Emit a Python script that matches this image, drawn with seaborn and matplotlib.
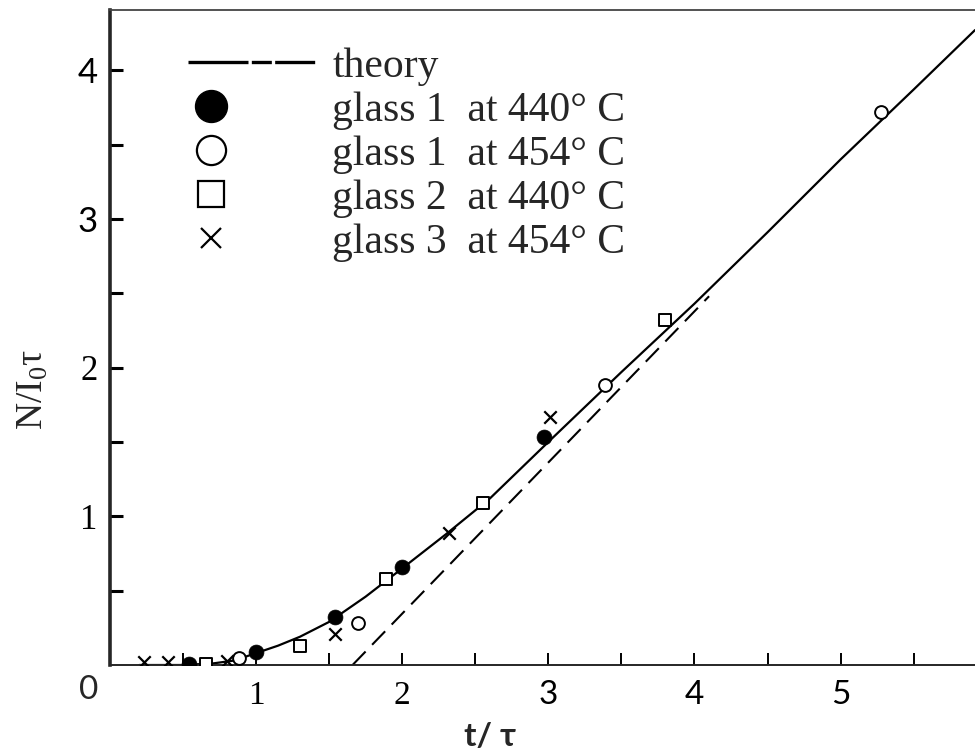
import numpy as np
import pandas as pd
import matplotlib
matplotlib.use("Agg")
import matplotlib.pyplot as plt
import seaborn as sns
from matplotlib.lines import Line2D
from matplotlib.legend_handler import HandlerLine2D
from matplotlib.ticker import FixedLocator

# ---------------- data ----------------
theory_x = [0.20, 0.50, 0.70, 0.85, 1.00, 1.15, 1.30, 1.50, 1.75, 2.00, 2.30,
            2.60, 3.00, 3.50, 4.00, 4.50, 5.00, 5.50, 5.92]
theory_y = [0.00, 0.00, 0.01, 0.03, 0.08, 0.13, 0.19, 0.29, 0.46, 0.65, 0.88,
            1.12, 1.50, 1.97, 2.43, 2.91, 3.40, 3.87, 4.27]
asym_x = [1.66, 4.10]
asym_y = [0.00, 2.48]

g1_440_x = [0.54, 1.00, 1.54, 2.00, 2.97]
g1_440_y = [0.01, 0.09, 0.32, 0.66, 1.53]
g1_454_x = [0.88, 1.70, 3.39, 5.28]
g1_454_y = [0.05, 0.28, 1.88, 3.72]
g2_440_x = [0.66, 1.30, 1.89, 2.55, 3.80]
g2_440_y = [0.01, 0.13, 0.58, 1.09, 2.32]
g3_454_x = [0.23, 0.40, 0.80, 1.54, 2.32, 3.01]
g3_454_y = [0.02, 0.02, 0.03, 0.21, 0.89, 1.67]

legend_labels = ["theory", "glass 1  at 440° C", "glass 1  at 454° C",
                 "glass 2  at 440° C", "glass 3  at 454° C"]
x_tick_vals = [1, 2, 3, 4, 5]
x_minor_vals = [0.5, 1.5, 2.5, 3.5, 4.5, 5.5]
y_tick_vals = [1, 2, 3, 4]
y_minor_vals = [0.5, 1.5, 2.5, 3.5]
x_label = "t/ τ"
y_label = r"N/I$_{\mathrm{0}}$τ"

# ---------------- style ----------------
sns.set_style("ticks")
plt.rcParams["font.family"] = ["Liberation Serif", "DejaVu Serif"]
plt.rcParams["mathtext.fontset"] = "custom"
plt.rcParams["mathtext.rm"] = "Liberation Serif"
plt.rcParams["mathtext.it"] = "Liberation Serif:italic"

fig = plt.figure(figsize=(9.75, 7.5), dpi=100)
ax = fig.add_axes([110 / 975, 1 - 665 / 750, 865 / 975, 655 / 750])

# theory curve and asymptote
sns.lineplot(x=theory_x, y=theory_y, ax=ax, color="black", lw=1.6,
             estimator=None, sort=False, zorder=2)
sns.lineplot(x=asym_x, y=asym_y, ax=ax, color="black", lw=1.5,
             estimator=None, sort=False, dashes=False, zorder=2)
ax.lines[-1].set_dashes((9, 4.5))

# data points
sns.scatterplot(x=g1_440_x, y=g1_440_y, ax=ax, marker="o", s=115,
                color="black", edgecolor="black", linewidth=0.5, zorder=4)
sns.scatterplot(x=g1_454_x, y=g1_454_y, ax=ax, marker="o", s=85,
                facecolor="white", edgecolor="black", linewidth=1.4, zorder=4)
sns.scatterplot(x=g2_440_x, y=g2_440_y, ax=ax, marker="s", s=64,
                facecolor="white", edgecolor="black", linewidth=1.4, zorder=4)
sns.scatterplot(x=g3_454_x, y=g3_454_y, ax=ax, marker="x", s=80,
                color="black", linewidth=1.6, zorder=4)

ax.set_xlim(0, 5.92)
ax.set_ylim(0, 4.405)

# spines
ax.spines["right"].set_visible(False)
ax.spines["top"].set_color("#444444")
ax.spines["top"].set_linewidth(1.3)
ax.spines["left"].set_linewidth(2.6)
ax.spines["bottom"].set_linewidth(1.4)

# ticks
ax.xaxis.set_major_locator(FixedLocator(x_tick_vals))
ax.xaxis.set_minor_locator(FixedLocator(x_minor_vals))
ax.yaxis.set_major_locator(FixedLocator(y_tick_vals))
ax.yaxis.set_minor_locator(FixedLocator(y_minor_vals))
ax.set_xticklabels([str(v) for v in x_tick_vals])
ax.set_yticklabels([str(v) for v in y_tick_vals])
ax.tick_params(axis="x", which="both", direction="in", length=9, width=1.4,
               pad=11, labelsize=24, colors="black")
ax.tick_params(axis="y", which="both", direction="in", length=9, width=2.2,
               pad=9, labelsize=25, colors="black")
for lab in ax.get_xticklabels():
    if lab.get_text() in ("3", "4", "5"):
        lab.set_fontfamily(["Lato", "DejaVu Sans"])
for lab in ax.get_yticklabels():
    if lab.get_text() in ("3", "4"):
        lab.set_fontfamily(["Lato", "DejaVu Sans"])

ax.text(-0.025, -0.038, "0", transform=ax.transAxes, ha="center", va="center",
        fontsize=24, family=["Lato", "DejaVu Sans"])

ax.set_xlabel(x_label, fontsize=24, family=["Lato", "DejaVu Sans"],
              fontweight="bold")
ax.xaxis.set_label_coords(0.439, -0.087)
ax.set_ylabel(y_label, fontsize=27)
ax.yaxis.set_label_coords(-0.069, 0.42)


# legend
class LeftMarker(HandlerLine2D):
    def create_artists(self, legend, orig_handle, xdescent, ydescent, width,
                       height, fontsize, trans):
        x = -xdescent + 0.18 * width
        y = (height - ydescent) / 2
        line = Line2D([x], [y])
        self.update_prop(line, orig_handle, legend)
        line.set_linestyle("none")
        line.set_transform(trans)
        return [line]


h_theory = Line2D([], [], color="black", lw=2.4,
                  linestyle=(0, (18, 1.0, 6, 1.0, 12, 3)))
h_g1_440 = Line2D([], [], marker="o", color="black", markersize=23,
                  linestyle="none")
h_g1_454 = Line2D([], [], marker="o", markerfacecolor="white",
                  markeredgecolor="black", markeredgewidth=1.6, markersize=21,
                  linestyle="none")
h_g2_440 = Line2D([], [], marker="s", markerfacecolor="white",
                  markeredgecolor="black", markeredgewidth=1.6, markersize=19,
                  linestyle="none")
h_g3_454 = Line2D([], [], marker="x", color="black", markeredgewidth=1.6,
                  markersize=15, linestyle="none")
handles = [h_theory, h_g1_440, h_g1_454, h_g2_440, h_g3_454]
hm = {h: LeftMarker() for h in handles[1:]}
ax.legend(handles=handles, labels=legend_labels, handler_map=hm,
          loc="upper left", bbox_to_anchor=(0.090, 0.943), frameon=False,
          borderpad=0, borderaxespad=0, fontsize=30, handlelength=3.05,
          handletextpad=0.42, labelspacing=0.13, numpoints=1)

fig.savefig("out.png", dpi=100)
